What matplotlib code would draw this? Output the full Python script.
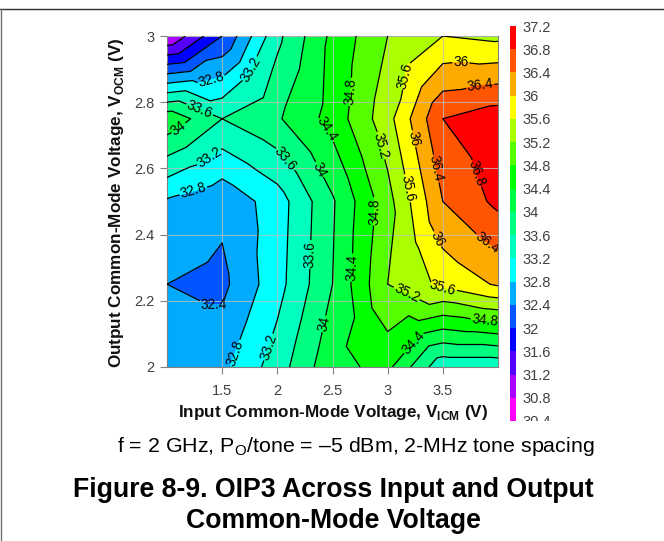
import numpy as np
import matplotlib
matplotlib.use("Agg")
import matplotlib.pyplot as plt
import matplotlib.tri as mtri
from matplotlib.colors import ListedColormap, BoundaryNorm
from matplotlib.lines import Line2D
from matplotlib.transforms import Bbox

plt.rcParams["font.family"] = ["Liberation Sans", "DejaVu Sans"]
plt.rcParams["mathtext.fontset"] = "custom"
plt.rcParams["mathtext.rm"] = "Liberation Sans"
plt.rcParams["mathtext.bf"] = "Liberation Sans:bold"

W, H = 664, 541

vicm = [1.0, 1.5, 2.0, 2.5, 3.0, 3.5, 4.0]
vocm = [2.0, 2.25, 2.5, 2.75, 3.0]
oip3 = [
    [32.6, 32.7, 33.4, 34.3, 34.5, 33.3, 33.3],
    [32.4, 32.3, 33.05, 34.0, 35.2, 35.7, 36.05],
    [32.75, 32.5, 33.0, 33.95, 35.05, 36.4, 36.9],
    [34.3, 33.6, 33.95, 34.55, 35.45, 36.8, 37.05],
    [30.8, 32.0, 33.5, 34.5, 35.2, 35.6, 35.5],
]
band_colors = [
    "#ff00ff", "#aa00ff", "#5500ff", "#0000ff", "#0055ff", "#00aaff",
    "#00ffff", "#00ffbf", "#00ff80", "#00ff40", "#00ff00", "#55ff00",
    "#aaff00", "#ffff00", "#ffaa00", "#ff5500", "#ff0000",
]
x_ticks = [1.5, 2, 2.5, 3, 3.5]
y_ticks = [2, 2.2, 2.4, 2.6, 2.8, 3]
levels = np.round(np.arange(30.4, 37.3, 0.4), 1)

label_spots = {
    "32.4": [(1.42, 2.19)],
    "32.8": [(1.38, 2.90), (1.24, 2.53), (1.63, 2.04)],
    "33.2": [(1.69, 2.91), (1.37, 2.64), (1.92, 2.06)],
    "33.6": [(1.31, 2.79), (2.08, 2.63), (2.31, 2.34)],
    "34": [(1.11, 2.72), (2.40, 2.60), (2.43, 2.13)],
    "34.4": [(2.46, 2.72), (2.69, 2.30), (3.28, 2.06)],
    "34.8": [(2.70, 2.83), (2.91, 2.47), (3.88, 2.14)],
    "35.2": [(2.95, 2.67), (3.14, 2.20)],
    "35.6": [(3.31, 2.87), (3.18, 2.54), (3.50, 2.24)],
    "36": [(3.66, 2.91), (3.24, 2.69), (3.41, 2.38)],
    "36.4": [(3.84, 2.84), (3.45, 2.60), (3.89, 2.37)],
    "36.8": [(3.85, 2.59)],
}

# each grid cell is split into 4 triangles around its mean, like the spreadsheet surface
z = np.array(oip3)
xg, yg = np.meshgrid(vicm, vocm)
nr, nc = z.shape
xs = list(xg.ravel())
ys = list(yg.ravel())
zs = list(z.ravel())
tris = []
for r in range(nr - 1):
    for c in range(nc - 1):
        a, b = r * nc + c, r * nc + c + 1
        d, e = (r + 1) * nc + c, (r + 1) * nc + c + 1
        m = len(xs)
        xs.append((vicm[c] + vicm[c + 1]) / 2)
        ys.append((vocm[r] + vocm[r + 1]) / 2)
        zs.append(z[r:r + 2, c:c + 2].mean())
        tris += [(a, b, m), (b, e, m), (e, d, m), (d, a, m)]
tri = mtri.Triangulation(xs, ys, tris)

cmap = ListedColormap(band_colors)
norm = BoundaryNorm(levels, cmap.N)

fig = plt.figure(figsize=(W / 100, H / 100), dpi=100)
ax = fig.add_axes([167 / W, 1 - 367 / H, 331 / W, 331 / H])
cf = ax.tricontourf(tri, zs, levels=levels, cmap=cmap, norm=norm)
ax.set_xlim(1, 4)
ax.set_ylim(2, 3)
ax.set_xticks(x_ticks, [f"{v:g}" for v in x_ticks])
ax.set_yticks(y_ticks, [f"{v:g}" for v in y_ticks])
ax.tick_params(colors="#808080", labelcolor="#404040", labelsize=10.5, length=5, width=0.8, pad=4)
ax.tick_params(axis="x", pad=7)
ax.grid(True, color="#c0c0c0", linewidth=0.8, alpha=0.75)
ax.set_axisbelow(False)
for s in ax.spines.values():
    s.set_color("#808080")
    s.set_linewidth(0.8)

# one contour set per level so every label lands on its own line
for lev in levels:
    if lev < min(zs) or lev > max(zs):
        continue
    cs = ax.tricontour(tri, zs, levels=[lev], colors="black", linewidths=0.9, zorder=3)
    spots = label_spots.get(f"{lev:g}")
    if spots:
        ax.clabel(cs, manual=spots, fmt="%g", fontsize=9.8, inline=True, inline_spacing=1)

cax = fig.add_axes([510 / W, 1 - 421 / H, 6 / W, 395 / H])
cb = fig.colorbar(cf, cax=cax, ticks=levels, spacing="uniform")
cb.outline.set_visible(False)
cb.ax.tick_params(length=0, labelcolor="#404040", labelsize=10.5, pad=5)
cb.ax.set_yticklabels([f"{v:g}" for v in levels])
clip = Bbox([[500, H - 421], [600, H]])
for t in cb.ax.get_yticklabels():
    t.set_clip_on(True)
    t.set_clip_box(clip)

fig.text(333 / W, 1 - 413 / H, r"Input Common-Mode Voltage, V$_{\mathbf{ICM}}$ (V)",
         ha="center", va="center", fontsize=12.3, fontweight="bold", color="#111111")
fig.text(117 / W, 1 - 203 / H, r"Output Common-Mode Voltage, V$_{\mathbf{OCM}}$ (V)",
         ha="center", va="center", rotation=90, fontsize=12.3, fontweight="bold", color="#111111")
fig.text(356 / W, 1 - 447 / H, r"f = 2 GHz, P$_{\mathrm{O}}$/tone = –5 dBm, 2-MHz tone spacing",
         ha="center", va="center", fontsize=15.4, color="black")
fig.text(333 / W, 1 - 490 / H, "Figure 8-9. OIP3 Across Input and Output",
         ha="center", va="center", fontsize=19.2, fontweight="bold", color="black")
fig.text(333 / W, 1 - 521 / H, "Common-Mode Voltage",
         ha="center", va="center", fontsize=19.2, fontweight="bold", color="black")

# page frame: dark rule on top, grey line down the left
fig.add_artist(Line2D([0, 1], [1 - 8.5 / H, 1 - 8.5 / H], color="#303030", linewidth=1))
fig.add_artist(Line2D([0.5 / W, 0.5 / W], [0, 1 - 8.5 / H], color="#707070", linewidth=1))

fig.savefig("out.png", dpi=100)
plt.close(fig)
